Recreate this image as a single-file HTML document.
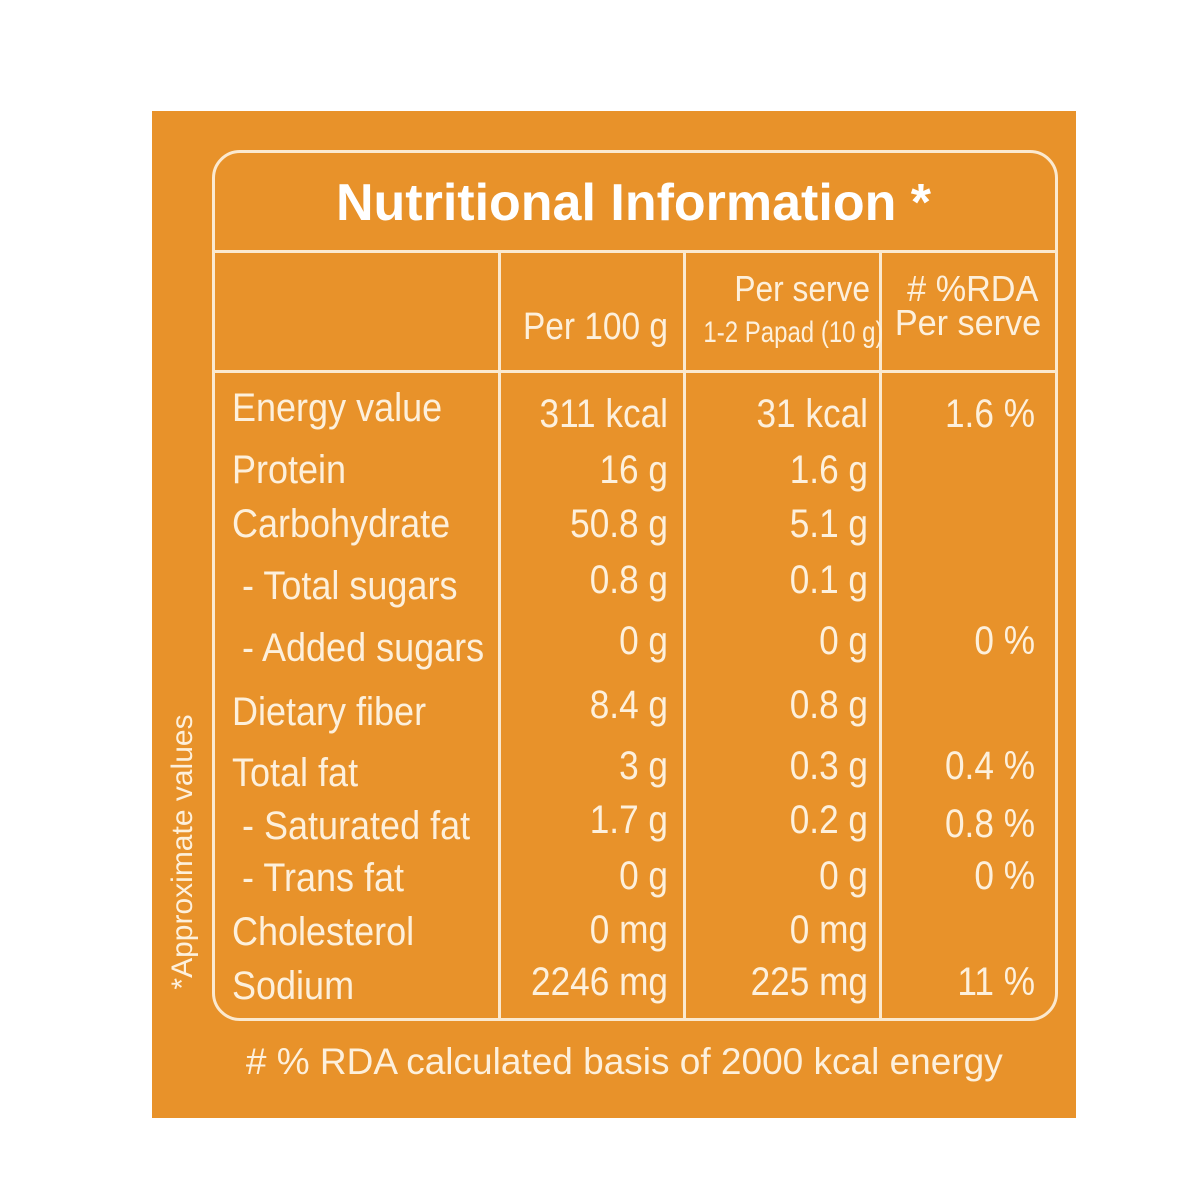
<!DOCTYPE html>
<html><head><style>
body{margin:0;width:1200px;height:1200px;background:#fff;position:relative;overflow:hidden;font-family:"Liberation Sans Narrow","Liberation Sans",sans-serif;color:#fdf0dc}
.box{position:absolute;left:152px;top:111px;width:924px;height:1007px;background:#e8922a}
.frame{position:absolute;left:212px;top:150px;width:840px;height:865px;border:3px solid #fbe9cf;border-radius:28px}
.h{position:absolute;background:#fbe9cf;height:3px}
.v{position:absolute;background:#fbe9cf;width:3px}
.t{position:absolute;white-space:nowrap;font-size:40px;line-height:50px;height:50px}
.l{left:232px;transform:scaleX(0.9);transform-origin:left center}
.r{text-align:right;transform:scaleX(0.88);transform-origin:right center}
</style></head><body>
<div class="box"></div>
<div class="frame"></div>
<div class="h" style="left:214px;top:250px;width:841px"></div>
<div class="h" style="left:214px;top:370px;width:841px"></div>
<div class="v" style="left:498px;top:253px;height:765px"></div>
<div class="v" style="left:683px;top:253px;height:765px"></div>
<div class="v" style="left:879px;top:253px;height:765px"></div>
<div class="t" style="left:212px;width:843px;text-align:center;top:173px;font-family:'Liberation Sans',sans-serif;font-weight:bold;font-size:52px;line-height:60px;height:60px;color:#fff">Nutritional Information *</div>
<div class="t r" style="left:500px;width:168px;top:302px;font-size:38px">Per 100 g</div>
<div class="t r" style="left:686px;width:184px;top:264px;font-size:36px">Per serve</div>
<div class="t" style="left:684px;width:194px;text-align:center;top:308px;font-size:30px;transform:scaleX(0.8)">1-2 Papad (10 g)</div>
<div class="t" style="left:882px;width:172px;text-align:center;top:264px;font-size:36px;transform:scaleX(0.95)">&nbsp;# %RDA</div>
<div class="t" style="left:882px;width:172px;text-align:center;top:298px;font-size:36px;transform:scaleX(0.95)">Per serve</div>

<div class="t l" style="top:383px">Energy value</div>
<div class="t l" style="top:445px">Protein</div>
<div class="t l" style="top:499px">Carbohydrate</div>
<div class="t l" style="top:561px">&nbsp;- Total sugars</div>
<div class="t l" style="top:623px">&nbsp;- Added sugars</div>
<div class="t l" style="top:687px">Dietary fiber</div>
<div class="t l" style="top:748px">Total fat</div>
<div class="t l" style="top:801px">&nbsp;- Saturated fat</div>
<div class="t l" style="top:853px">&nbsp;- Trans fat</div>
<div class="t l" style="top:907px">Cholesterol</div>
<div class="t l" style="top:961px">Sodium</div>

<div class="t r" style="left:500px;width:168px;top:389px">311 kcal</div>
<div class="t r" style="left:500px;width:168px;top:445px">16 g</div>
<div class="t r" style="left:500px;width:168px;top:499px">50.8 g</div>
<div class="t r" style="left:500px;width:168px;top:555px">0.8 g</div>
<div class="t r" style="left:500px;width:168px;top:616px">0 g</div>
<div class="t r" style="left:500px;width:168px;top:680px">8.4 g</div>
<div class="t r" style="left:500px;width:168px;top:741px">3 g</div>
<div class="t r" style="left:500px;width:168px;top:795px">1.7 g</div>
<div class="t r" style="left:500px;width:168px;top:851px">0 g</div>
<div class="t r" style="left:500px;width:168px;top:905px">0 mg</div>
<div class="t r" style="left:500px;width:168px;top:957px">2246 mg</div>

<div class="t r" style="left:686px;width:182px;top:389px">31 kcal</div>
<div class="t r" style="left:686px;width:182px;top:445px">1.6 g</div>
<div class="t r" style="left:686px;width:182px;top:499px">5.1 g</div>
<div class="t r" style="left:686px;width:182px;top:555px">0.1 g</div>
<div class="t r" style="left:686px;width:182px;top:616px">0 g</div>
<div class="t r" style="left:686px;width:182px;top:680px">0.8 g</div>
<div class="t r" style="left:686px;width:182px;top:741px">0.3 g</div>
<div class="t r" style="left:686px;width:182px;top:795px">0.2 g</div>
<div class="t r" style="left:686px;width:182px;top:851px">0 g</div>
<div class="t r" style="left:686px;width:182px;top:905px">0 mg</div>
<div class="t r" style="left:686px;width:182px;top:957px">225 mg</div>

<div class="t r" style="left:882px;width:153px;top:389px">1.6 %</div>
<div class="t r" style="left:882px;width:153px;top:616px">0 %</div>
<div class="t r" style="left:882px;width:153px;top:741px">0.4 %</div>
<div class="t r" style="left:882px;width:153px;top:799px">0.8 %</div>
<div class="t r" style="left:882px;width:153px;top:851px">0 %</div>
<div class="t r" style="left:882px;width:153px;top:957px">11 %</div>

<div class="t" style="left:152px;width:924px;text-align:center;top:1038px;font-family:'Liberation Sans',sans-serif;font-size:37px;line-height:48px">&nbsp;&nbsp;# % RDA calculated basis of 2000 kcal energy</div>
<div class="t" style="left:33px;top:832px;width:300px;text-align:center;font-size:30px;line-height:40px;height:40px;transform:rotate(-90deg)">*Approximate values</div>
</body></html>
